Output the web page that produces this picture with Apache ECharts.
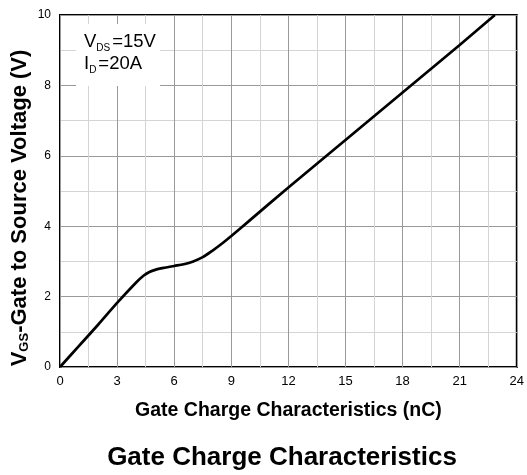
<!DOCTYPE html>
<html>
<head>
<meta charset="utf-8">
<script src="https://cdn.jsdelivr.net/npm/echarts@6/dist/echarts.min.js"></script>
<style>
  html, body { margin: 0; padding: 0; background: #fff; }
  #chart { width: 527px; height: 475px; }
</style>
</head>
<body>
<div id="chart"></div>
<script>
// Gate charge curve: V_GS (V) versus total gate charge Qg (nC)
const gateCharge = [0, 1, 2, 3, 4, 4.4, 4.7, 5, 5.5, 6, 6.5, 7, 7.5, 8, 8.5, 9, 10, 12, 15, 18, 21, 22.85];
const gateVoltage = [0, 0.6, 1.2, 1.82, 2.4, 2.6, 2.7, 2.76, 2.82, 2.87, 2.92, 3.0, 3.12, 3.3, 3.5, 3.72, 4.18, 5.1, 6.45, 7.8, 9.15, 10];

const xTicks = [0, 3, 6, 9, 12, 15, 18, 21, 24];
const yTicks = [0, 2, 4, 6, 8, 10];

const chartTitle = 'Gate Charge Characteristics';
const xAxisTitle = 'Gate Charge Characteristics (nC)';
const yAxisTitle = 'V{sub|GS}-Gate to Source Voltage (V)';
const conditions = ['V{sub|DS}=15V', 'I{sub|D}=20A'];

const FONT = 'Arial, "Liberation Sans", sans-serif';

const chart = echarts.init(document.getElementById('chart'), null, { renderer: 'canvas' });

chart.setOption({
  animation: false,
  grid: {
    left: 60, right: 10, top: 15, bottom: 108,
    show: true, borderColor: '#000', borderWidth: 2, backgroundColor: 'transparent'
  },
  xAxis: {
    type: 'value',
    min: xTicks[0], max: xTicks[xTicks.length - 1], interval: 3,
    name: xAxisTitle,
    nameLocation: 'middle',
    nameGap: 34,
    nameTextStyle: { fontFamily: FONT, fontSize: 19.5, fontWeight: 'bold', color: '#000', verticalAlign: 'top' },
    axisLine: { show: false },
    axisTick: { show: false },
    axisLabel: { fontFamily: FONT, fontSize: 13, color: '#000', margin: 8 },
    splitLine: { show: true, lineStyle: { color: '#999', width: 1 } },
    minorTick: { show: false, splitNumber: 2 },
    minorSplitLine: { show: true, lineStyle: { color: '#d4d4d4', width: 1 } }
  },
  yAxis: {
    type: 'value',
    min: yTicks[0], max: yTicks[yTicks.length - 1], interval: 2,
    axisLine: { show: false },
    axisTick: { show: false },
    axisLabel: { fontFamily: FONT, fontSize: 12, color: '#000', margin: 9 },
    splitLine: { show: true, lineStyle: { color: '#999', width: 1 } },
    minorTick: { show: false, splitNumber: 2 },
    minorSplitLine: { show: true, lineStyle: { color: '#d4d4d4', width: 1 } }
  },
  series: [{
    type: 'line',
    data: gateCharge.map((q, i) => [q, gateVoltage[i]]),
    smooth: 0.3,
    showSymbol: false,
    lineStyle: { color: '#000', width: 2.7 },
    z: 5
  }],
  graphic: [
    // test-condition note on a white backing over the grid
    { type: 'rect', shape: { x: 76, y: 24, width: 84, height: 62 }, style: { fill: '#fff' }, z: 10 },
    {
      type: 'text', left: 84, top: 31, z: 11,
      style: {
        text: conditions.join('\n'),
        fontFamily: FONT, fontSize: 18.5, lineHeight: 22, fill: '#000',
        rich: {
          sub: { fontSize: 10, fontFamily: FONT, fill: '#000', lineHeight: 1, verticalAlign: 'bottom', padding: [0, 2, 0, 0] }
        }
      }
    },
    {
      type: 'text', x: 19.5, y: 208, rotation: Math.PI / 2, z: 11,
      style: {
        text: yAxisTitle,
        fontFamily: FONT, fontSize: 22, fontWeight: 'bold', fill: '#000',
        lineHeight: 22,
        align: 'center', verticalAlign: 'middle',
        rich: {
          sub: { fontSize: 13, fontWeight: 'bold', fontFamily: FONT, fill: '#000', lineHeight: 2, verticalAlign: 'bottom' }
        }
      }
    },
    {
      type: 'text', x: 282, y: 458, z: 11,
      style: {
        text: chartTitle,
        fontFamily: FONT, fontSize: 26, fontWeight: 'bold', fill: '#000',
        align: 'center', verticalAlign: 'middle'
      }
    }
  ]
});
</script>
</body>
</html>
